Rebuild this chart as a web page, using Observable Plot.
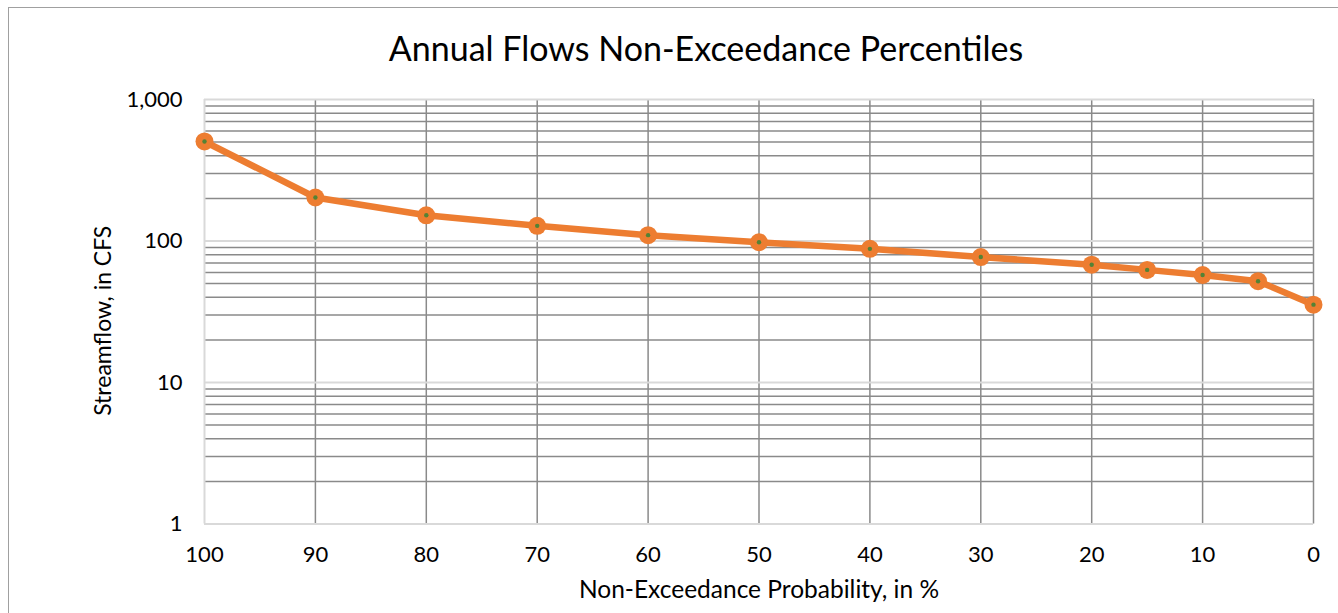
<!DOCTYPE html>
<html>
<head>
<meta charset="utf-8">
<script src="https://cdn.jsdelivr.net/npm/d3@7"></script>
<script src="https://cdn.jsdelivr.net/npm/@observablehq/plot@0.6"></script>
<style>
  html, body { margin: 0; padding: 0; background: #fff; }
  #wrap { position: relative; width: 1338px; height: 613px; overflow: hidden; }
  #border { position: absolute; left: 8px; top: 7px; width: 1340px; height: 620px;
            border-left: 1.5px solid #a0a0a0; border-top: 1.5px solid #a0a0a0; pointer-events: none; }
  svg { font-family: Lato, "Open Sans", sans-serif; }
</style>
</head>
<body>
<div id="wrap"><div id="border"></div></div>
<script>
// Data
const percentiles = [100, 90, 80, 70, 60, 50, 40, 30, 20, 15, 10, 5, 0];
const flows = [505, 203, 152, 128, 110, 98, 88, 77, 68, 62.5, 57.5, 52, 35.5];

// Axis / grid values
const xTicks = [100, 90, 80, 70, 60, 50, 40, 30, 20, 10, 0];
const xGridDark = [90, 80, 70, 60, 50, 40, 30, 20, 10, 0];
const yTicks = [1, 10, 100, 1000];
const yMinor = [2, 3, 4, 5, 6, 7, 8, 9, 20, 30, 40, 50, 60, 70, 80, 90, 200, 300, 400, 500, 600, 700, 800, 900];

const titleText = "Annual Flows Non-Exceedance Percentiles";
const xLabel = "Non-Exceedance Probability, in %";
const yLabel = "Streamflow, in CFS";

const data = percentiles.map((p, i) => ({p, q: flows[i]}));

const orange = "#ED7D31";
const green = "#548235";
const darkGrid = "#8a8a8a";
const lightGrid = "#d9d9d9";

const chart = Plot.plot({
  width: 1338,
  height: 613,
  marginLeft: 204,
  marginRight: 25,
  marginTop: 99,
  marginBottom: 89.5,
  style: {fontFamily: "Lato, 'Open Sans', sans-serif", fontSize: "22px", color: "#000", background: "transparent", overflow: "visible"},
  x: {domain: [100, 0], ticks: xTicks, tickSize: 0, tickPadding: 22, label: null, tickFormat: d => String(d)},
  y: {type: "log", domain: [1, 1000], ticks: yTicks, tickSize: 0, tickPadding: 22, label: null, tickFormat: d3.format(",")},
  marks: [
    Plot.ruleY(yMinor, {stroke: darkGrid, strokeWidth: 1.5}),
    Plot.ruleX(xGridDark, {stroke: darkGrid, strokeWidth: 1.5}),
    Plot.ruleY(yTicks, {stroke: lightGrid, strokeWidth: 2}),
    Plot.ruleX([100], {stroke: lightGrid, strokeWidth: 2}),
    Plot.line(data, {x: "p", y: "q", stroke: orange, strokeWidth: 6.5, strokeLinejoin: "round"}),
    Plot.dot(data, {x: "p", y: "q", r: 9, fill: orange, stroke: "none"}),
    Plot.dot(data, {x: "p", y: "q", r: 2.2, fill: green, stroke: "none"}),
    Plot.text([titleText], {frameAnchor: "top", dx: -53, dy: -49, fontSize: 34, fill: "#000", lineAnchor: "middle", textAnchor: "middle"}),
    Plot.text([xLabel], {frameAnchor: "bottom", dy: 66, fontSize: 24.5, fill: "#000", lineAnchor: "middle", textAnchor: "middle"}),
    Plot.text([yLabel], {frameAnchor: "left", dx: -101, dy: 9, rotate: -90, fontSize: 23, fill: "#000", lineAnchor: "middle", textAnchor: "middle"})
  ]
});
document.getElementById("wrap").prepend(chart);
</script>
</body>
</html>
